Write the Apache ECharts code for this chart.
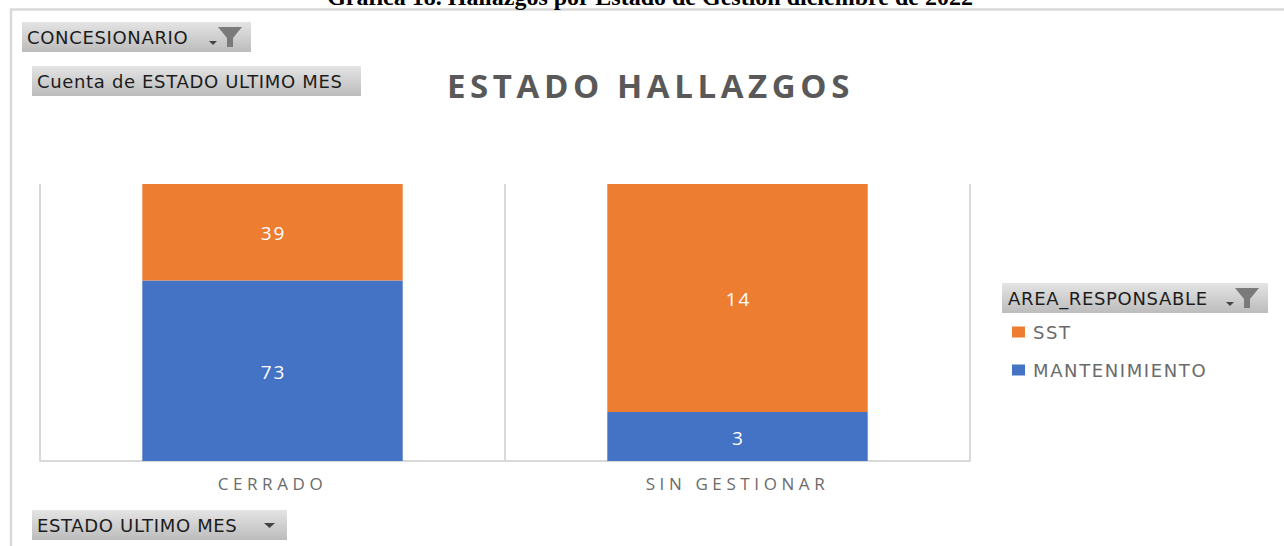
<!DOCTYPE html>
<html><head><meta charset="utf-8">
<style>
html,body{margin:0;padding:0;background:#fff}
#c{width:1284px;height:546px}
svg text[style*="17.01px"]{letter-spacing:4.6px}
svg text[style*="33.01px"]{letter-spacing:4.6px}
svg text[style*="19.01px"]{letter-spacing:2px}
svg text[style*="18.02px"]{letter-spacing:.65px}
svg text[style*="18.03px"]{letter-spacing:1.6px}
</style>
<script src="https://cdn.jsdelivr.net/npm/echarts@6/dist/echarts.min.js"></script>
</head><body><div id="c"></div>
<script>
const categories = ['CERRADO', 'SIN GESTIONAR'];
const mantenimiento = [73, 3];
const sst = [39, 14];
const seriesNames = ['MANTENIMIENTO', 'SST'];
const chartTitle = 'ESTADO HALLAZGOS';
const pageCaption = 'Gráfica 18. Hallazgos por Estado de Gestión diciembre de 2022';

const totals = categories.map((_, i) => mantenimiento[i] + sst[i]);
const share = arr => arr.map((v, i) => ({ value: v / totals[i], count: v }));
const F = 'Open Sans';
const B = 'DejaVu Sans';
const grad = { type: 'linear', x: 0, y: 0, x2: 0, y2: 1,
  colorStops: [{ offset: 0, color: '#e4e4e4' }, { offset: 1, color: '#bcbcbc' }] };

function button(x, y, w, h, text, size, tx) {
  return [
    { type: 'rect', shape: { x, y, width: w, height: h }, style: { fill: grad } },
    { type: 'text', x: tx, y: y + h / 2, style: { text, fill: '#1c1c1c', font: size + 'px "' + B + '"', verticalAlign: 'middle', align: 'left' } }
  ];
}
function funnel(x, y) {
  return [
    { type: 'polygon', shape: { points: [[x, y], [x + 24, y], [x + 15, y + 11], [x + 15, y + 20], [x + 9, y + 20], [x + 9, y + 11]] }, style: { fill: '#7a7a7a' } },
    { type: 'polygon', shape: { points: [[x - 9, y + 14], [x - 1, y + 14], [x - 5, y + 18]] }, style: { fill: '#444' } }
  ];
}

const chart = echarts.init(document.getElementById('c'), null, { renderer: 'svg' });
chart.setOption({
  animation: false,
  backgroundColor: '#fff',
  title: { text: chartTitle, left: 447, top: 69, padding: 0, textStyle: { fontFamily: F, fontSize: 33.01, fontWeight: 'bold', color: '#595959' } },
  legend: {
    orient: 'vertical', left: 1012, top: 323, padding: 0, itemGap: 20, itemWidth: 13, itemHeight: 11, icon: 'rect',
    data: ['SST', 'MANTENIMIENTO'],
    textStyle: { fontFamily: B, fontSize: 18.03, color: '#6b6b6b', padding: [0, 0, 0, 3] }
  },
  grid: { left: 40, right: 314, top: 184, bottom: 85, containLabel: false },
  xAxis: {
    type: 'category', data: categories,
    axisLine: { lineStyle: { color: '#d9d9d9', width: 2 } },
    axisTick: { show: false },
    splitLine: { show: true, lineStyle: { color: '#d9d9d9', width: 2 } },
    axisLabel: { margin: 14, fontFamily: F, fontSize: 17.01, color: '#6b6b6b' }
  },
  yAxis: { type: 'value', min: 0, max: 1, show: false, splitLine: { show: false } },
  series: [
    { name: 'MANTENIMIENTO', type: 'bar', stack: 'a', barWidth: '56%', data: share(mantenimiento), itemStyle: { color: '#4472c4' } },
    { name: 'SST', type: 'bar', stack: 'a', barWidth: '56%', data: share(sst), itemStyle: { color: '#ed7d31' } }
  ].map(s => Object.assign(s, {
    label: { show: true, position: 'inside', offset: [1, 1], fontFamily: F, fontSize: 19.01, color: '#fff', formatter: p => p.data.count }
  })),
  graphic: { elements: [
    { type: 'rect', shape: { x: 11, y: 9.5, width: 1290, height: 560 }, style: { fill: 'none', stroke: '#d9d9d9', lineWidth: 2.5 } },
    { type: 'text', x: 650, y: -3, style: { text: pageCaption, align: 'center', verticalAlign: 'middle', fill: '#000', font: 'bold 24px "Liberation Serif"' } },
    ...button(22, 22, 229, 30, 'CONCESIONARIO', 18.02, 27),
    ...funnel(218, 27),
    ...button(32, 66, 329, 30, 'Cuenta de ESTADO ULTIMO MES', 18.02, 37),
    ...button(1002, 283, 266, 30, 'AREA_RESPONSABLE', 18.02, 1008),
    ...funnel(1235, 288),
    ...button(32, 510, 255, 30, 'ESTADO ULTIMO MES', 18.02, 37),
    { type: 'polygon', shape: { points: [[264, 523], [275, 523], [269.5, 528]] }, style: { fill: '#444' } }
  ] }
});
</script></body></html>
